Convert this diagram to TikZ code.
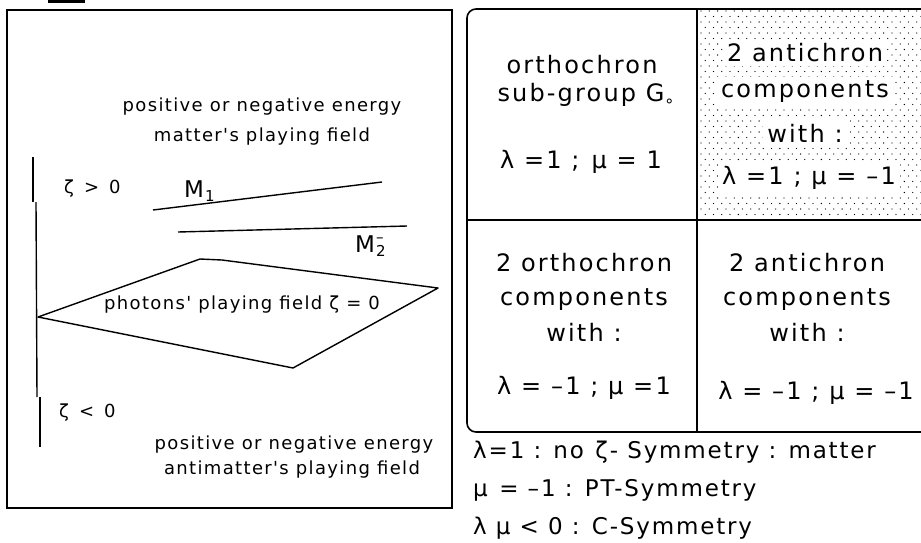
\documentclass[tikz,border=0pt]{standalone}
\usepackage{fontspec}
\setmainfont{DejaVu Sans}
\newfontfamily\smallwide[LetterSpace=7.5]{DejaVu Sans}
\newfontfamily\bigwide[LetterSpace=9]{DejaVu Sans}
\newfontfamily\legwide[LetterSpace=8]{DejaVu Sans}
\begin{document}
\begin{tikzpicture}[x=1pt,y=-1pt,
  frame/.style={line width=1.6pt,black},
  thin/.style={line width=1.4pt,black},
  lefttxt/.style={inner sep=0pt,font=\smallwide\fontsize{18}{20}\selectfont},
  tabtxt/.style={inner sep=1pt,font=\bigwide\fontsize{24}{26}\selectfont},
  legtxt/.style={inner sep=0pt,anchor=west,font=\legwide\fontsize{23}{25}\selectfont},
  whitebg/.style={fill=white,inner sep=4pt}]
\useasboundingbox (0,0) rectangle (921,542);
\fill[white] (0,0) rectangle (921,542);
% small cropped mark at top
\fill (48,0) rectangle (85,2.5);
% left box
\draw[frame] (7,10) rectangle (452,508);
% vertical axis
\draw[thin] (33,157) -- (33,202);
\draw[thin] (36,202) -- (37,397);
\draw[thin] (40,397) -- (40,447);
% texts upper
\node[lefttxt] (t1) at (262,107) {positive or negative energy};
\node[lefttxt] (t2) at (262,137) {matter's playing field};
\node[lefttxt,anchor=west] (zp) at (64,189) {ζ\, >\, 0};
\node[lefttxt,anchor=west,font=\fontsize{23}{25}\selectfont] (m1) at (184,191) {M\kern1pt\raisebox{-4pt}{\fontsize{15}{15}\selectfont 1}};
\node[lefttxt,anchor=west,font=\fontsize{23}{25}\selectfont] (m2) at (355,246) {M\kern1pt\raisebox{-4pt}{\shortstack[l]{\fontsize{15}{8}\selectfont –\\\fontsize{15}{15}\selectfont 2}}};
% M lines
\coordinate (a1) at (153,210); \coordinate (a2) at (382,182);
\coordinate (b1) at (178,232); \coordinate (b2) at (407,226);
\draw[thin] (a1) -- (a2);
\draw[thin] (b1) -- (b2);
% photon plane
\coordinate (pl) at (38,317); \coordinate (pt) at (200,259);
\coordinate (pr) at (438,288); \coordinate (pb) at (293,368);
\draw[thin,line join=round] (pl) -- (pt) -- (222,260) -- (pr) -- (pb) -- cycle;
\node[lefttxt] (ph) at (242,305) {photons' playing field ζ = 0};
\node[lefttxt,anchor=west] (zn) at (59,413) {ζ\, <\, 0};
\node[lefttxt] (t3) at (294,445) {positive or negative energy};
\node[lefttxt] (t4) at (292,470) {antimatter's playing field};
% table dots
\begin{scope}
\clip (697,9) rectangle (921,220);
\foreach \j in {0,...,40} {
  \pgfmathsetmacro{\yy}{11+5.5*\j}
  \pgfmathsetmacro{\off}{mod(\j,2)*4.15}
  \foreach \i in {0,...,27} {
    \fill (701+\off+8.3*\i,\yy) circle (0.65pt);
  }
}
\end{scope}
% table frame
\draw[frame,rounded corners=9pt] (935,9) -- (467,9) -- (467,432) -- (935,432);
\draw[frame] (697,9) -- (697,432);
\draw[frame] (467,220) -- (935,220);
% cell texts
\node[tabtxt] (c11a) at (582,65) {orthochron};
\node[tabtxt] (c11b) at (586,95) {sub-group G\raisebox{-0.2em}{\fontsize{16}{16}\selectfont∘}};
\node[tabtxt] (c11c) at (581,162) {λ =1 ;\enspace μ = 1};
\node[tabtxt,whitebg] (c12a) at (805,53) {2 antichron};
\node[tabtxt,whitebg] (c12b) at (805,92) {components};
\node[tabtxt,whitebg] (c12c) at (805,133) {with :};
\node[tabtxt,whitebg] (c12d) at (809,178) {λ =1 ; μ = –1};
\node[tabtxt] (c21a) at (584,263) {2 orthochron};
\node[tabtxt] (c21b) at (584,300) {components};
\node[tabtxt] (c21c) at (584,332) {with :};
\node[tabtxt] (c21d) at (584,388) {λ = –1 ; μ =1};
\node[tabtxt] (c22a) at (807,263) {2 antichron};
\node[tabtxt] (c22b) at (807,300) {components};
\node[tabtxt] (c22c) at (807,332) {with :};
\node[tabtxt] (c22d) at (816,393) {λ = –1 ; μ = –1};
% legend
\node[legtxt] (l1) at (473,452) {λ=1 : no\enspace ζ- Symmetry : matter};
\node[legtxt] (l2) at (473,490) {μ\enspace = –1 : PT-Symmetry};
\node[legtxt] (l3) at (473,528) {λ μ < 0 : C-Symmetry};
\end{tikzpicture}
\end{document}
